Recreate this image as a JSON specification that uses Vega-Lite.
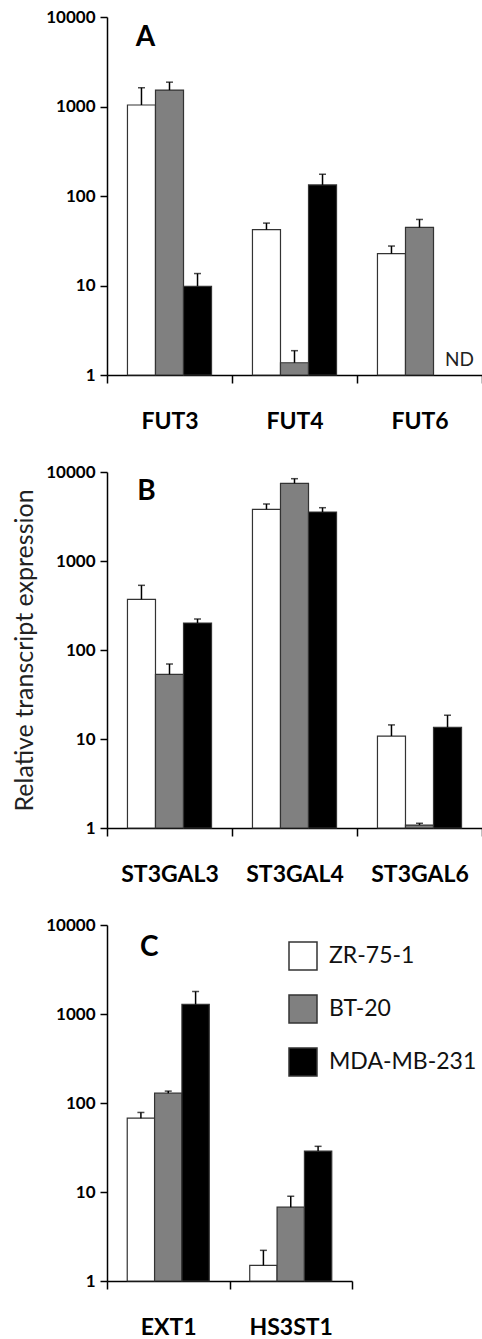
{
  "$schema": "https://vega.github.io/schema/vega-lite/v6.json",
  "padding": {"left": 12, "top": 8, "right": 0, "bottom": 0},
  "config": {
    "font": "Lato",
    "view": {"stroke": null},
    "axisX": {"title": null, "tickBand": "extent", "labelAngle": 0, "labelFontSize": 23, "labelFontWeight": "bold", "labelPadding": 27, "tickSize": 8, "domainColor": "#000", "tickColor": "#000", "domainWidth": 1.5, "tickWidth": 1.5, "labelColor": "#000"},
    "axisY": {"grid": false, "format": "d", "labelFontSize": 17, "labelFontWeight": "bold", "labelColor": "#000", "labelPadding": 5, "tickSize": 7, "domainColor": "#000", "tickColor": "#000", "domainWidth": 1.5, "tickWidth": 1.5, "title": null}
  },
  "datasets": {
    "expr": [
      {"panel": "A", "gene": "FUT3", "line": "ZR-75-1", "value": 1040, "upper": 1620},
      {"panel": "A", "gene": "FUT3", "line": "BT-20", "value": 1525, "upper": 1870},
      {"panel": "A", "gene": "FUT3", "line": "MDA-MB-231", "value": 9.8, "upper": 13.6},
      {"panel": "A", "gene": "FUT4", "line": "ZR-75-1", "value": 42, "upper": 49.8},
      {"panel": "A", "gene": "FUT4", "line": "BT-20", "value": 1.37, "upper": 1.87},
      {"panel": "A", "gene": "FUT4", "line": "MDA-MB-231", "value": 133, "upper": 175},
      {"panel": "A", "gene": "FUT6", "line": "ZR-75-1", "value": 22.7, "upper": 27.6},
      {"panel": "A", "gene": "FUT6", "line": "BT-20", "value": 44.6, "upper": 54.7},
      {"panel": "A", "gene": "FUT6", "line": "MDA-MB-231", "value": null, "upper": null, "note": "ND"},
      {"panel": "B", "gene": "ST3GAL3", "line": "ZR-75-1", "value": 371, "upper": 533},
      {"panel": "B", "gene": "ST3GAL3", "line": "BT-20", "value": 53.3, "upper": 69.6},
      {"panel": "B", "gene": "ST3GAL3", "line": "MDA-MB-231", "value": 201, "upper": 223},
      {"panel": "B", "gene": "ST3GAL4", "line": "ZR-75-1", "value": 3810, "upper": 4370},
      {"panel": "B", "gene": "ST3GAL4", "line": "BT-20", "value": 7460, "upper": 8410},
      {"panel": "B", "gene": "ST3GAL4", "line": "MDA-MB-231", "value": 3553, "upper": 3970},
      {"panel": "B", "gene": "ST3GAL6", "line": "ZR-75-1", "value": 10.8, "upper": 14.4},
      {"panel": "B", "gene": "ST3GAL6", "line": "BT-20", "value": 1.08, "upper": 1.13},
      {"panel": "B", "gene": "ST3GAL6", "line": "MDA-MB-231", "value": 13.5, "upper": 18.5},
      {"panel": "C", "gene": "EXT1", "line": "ZR-75-1", "value": 67.6, "upper": 78.3},
      {"panel": "C", "gene": "EXT1", "line": "BT-20", "value": 129, "upper": 136},
      {"panel": "C", "gene": "EXT1", "line": "MDA-MB-231", "value": 1280, "upper": 1790},
      {"panel": "C", "gene": "HS3ST1", "line": "ZR-75-1", "value": 1.5, "upper": 2.21},
      {"panel": "C", "gene": "HS3ST1", "line": "BT-20", "value": 6.75, "upper": 8.96},
      {"panel": "C", "gene": "HS3ST1", "line": "MDA-MB-231", "value": 28.8, "upper": 32.6}
    ]
  },
  "spacing": 30,
  "resolve": {"scale": {"x": "independent", "xOffset": "independent"}, "legend": {"color": "independent"}},
  "vconcat": [
    {
      "width": 375, "height": 358,
      "layer": [
        {
          "data": {"name": "expr"},
          "transform": [{"filter": "datum.panel == 'A'"}],
          "mark": {"type": "bar", "stroke": "#333", "strokeWidth": 1.2},
          "encoding": {
            "x": {"field": "gene", "type": "nominal", "scale": {"domain": ["FUT3", "FUT4", "FUT6"], "paddingInner": 0, "paddingOuter": 0}},
            "xOffset": {"field": "line", "type": "nominal", "scale": {"domain": ["ZR-75-1", "BT-20", "MDA-MB-231"], "paddingInner": 0, "paddingOuter": 0.73}},
            "y": {"field": "value", "type": "quantitative", "scale": {"type": "log", "domain": [1, 10000]}, "axis": {"values": [1, 10, 100, 1000, 10000]}},
            "y2": {"datum": 1},
            "color": {"field": "line", "type": "nominal", "scale": {"domain": ["ZR-75-1", "BT-20", "MDA-MB-231"], "range": ["#ffffff", "#808080", "#000000"]}, "legend": null}
          }
        },
        {
          "data": {"name": "expr"},
          "transform": [{"filter": "datum.panel == 'A'"}],
          "mark": {"type": "rule", "color": "#000", "strokeWidth": 1.5},
          "encoding": {
            "x": {"field": "gene", "type": "nominal"},
            "xOffset": {"field": "line", "type": "nominal"},
            "y": {"field": "value", "type": "quantitative"},
            "y2": {"field": "upper"}
          }
        },
        {
          "data": {"name": "expr"},
          "transform": [{"filter": "datum.panel == 'A'"}],
          "mark": {"type": "tick", "color": "#000", "thickness": 1.5, "size": 7},
          "encoding": {
            "x": {"field": "gene", "type": "nominal"},
            "xOffset": {"field": "line", "type": "nominal"},
            "y": {"field": "upper", "type": "quantitative"}
          }
        },
        {
          "data": {"name": "expr"},
          "transform": [{"filter": "datum.note == 'ND'"}],
          "mark": {"type": "text", "fontSize": 19, "color": "#222", "baseline": "bottom", "dy": -5, "dx": 12},
          "encoding": {
            "x": {"field": "gene", "type": "nominal"},
            "xOffset": {"field": "line", "type": "nominal"},
            "y": {"datum": 1},
            "text": {"field": "note"}
          }
        },
        {
          "data": {"values": [{"letter": "A"}]},
          "mark": {"type": "text", "fontSize": 28, "fontWeight": "bold", "color": "#000", "baseline": "alphabetic", "align": "center", "dx": -24},
          "encoding": {
            "x": {"datum": "FUT3"},
            "y": {"datum": 4750},
            "text": {"field": "letter"}
          }
        }
      ]
    },
    {
      "width": 375, "height": 356,
      "layer": [
        {
          "data": {"name": "expr"},
          "transform": [{"filter": "datum.panel == 'B'"}],
          "mark": {"type": "bar", "stroke": "#333", "strokeWidth": 1.2},
          "encoding": {
            "x": {"field": "gene", "type": "nominal", "scale": {"domain": ["ST3GAL3", "ST3GAL4", "ST3GAL6"], "paddingInner": 0, "paddingOuter": 0}},
            "xOffset": {"field": "line", "type": "nominal", "scale": {"domain": ["ZR-75-1", "BT-20", "MDA-MB-231"], "paddingInner": 0, "paddingOuter": 0.73}},
            "y": {"field": "value", "type": "quantitative", "scale": {"type": "log", "domain": [1, 10000]}, "axis": {"values": [1, 10, 100, 1000, 10000], "title": "Relative transcript expression", "titleFontSize": 25, "titleFontWeight": "normal", "titleColor": "#222", "titlePadding": 8}},
            "y2": {"datum": 1},
            "color": {"field": "line", "type": "nominal", "scale": {"domain": ["ZR-75-1", "BT-20", "MDA-MB-231"], "range": ["#ffffff", "#808080", "#000000"]}, "legend": null}
          }
        },
        {
          "data": {"name": "expr"},
          "transform": [{"filter": "datum.panel == 'B'"}],
          "mark": {"type": "rule", "color": "#000", "strokeWidth": 1.5},
          "encoding": {
            "x": {"field": "gene", "type": "nominal"},
            "xOffset": {"field": "line", "type": "nominal"},
            "y": {"field": "value", "type": "quantitative"},
            "y2": {"field": "upper"}
          }
        },
        {
          "data": {"name": "expr"},
          "transform": [{"filter": "datum.panel == 'B'"}],
          "mark": {"type": "tick", "color": "#000", "thickness": 1.5, "size": 7},
          "encoding": {
            "x": {"field": "gene", "type": "nominal"},
            "xOffset": {"field": "line", "type": "nominal"},
            "y": {"field": "upper", "type": "quantitative"}
          }
        },
        {
          "data": {"values": [{"letter": "B"}]},
          "mark": {"type": "text", "fontSize": 28, "fontWeight": "bold", "color": "#000", "baseline": "alphabetic", "align": "center", "dx": -23},
          "encoding": {
            "x": {"datum": "ST3GAL3"},
            "y": {"datum": 4900},
            "text": {"field": "letter"}
          }
        }
      ]
    },
    {
      "width": 245, "height": 356,
      "layer": [
        {
          "data": {"name": "expr"},
          "transform": [{"filter": "datum.panel == 'C'"}],
          "mark": {"type": "bar", "stroke": "#333", "strokeWidth": 1.2},
          "encoding": {
            "x": {"field": "gene", "type": "nominal", "scale": {"domain": ["EXT1", "HS3ST1"], "paddingInner": 0, "paddingOuter": 0}},
            "xOffset": {"field": "line", "type": "nominal", "scale": {"domain": ["ZR-75-1", "BT-20", "MDA-MB-231"], "paddingInner": 0, "paddingOuter": 0.74}},
            "y": {"field": "value", "type": "quantitative", "scale": {"type": "log", "domain": [1, 10000]}, "axis": {"values": [1, 10, 100, 1000, 10000]}},
            "y2": {"datum": 1},
            "color": {"field": "line", "type": "nominal", "scale": {"domain": ["ZR-75-1", "BT-20", "MDA-MB-231"], "range": ["#ffffff", "#808080", "#000000"]},
              "legend": {"orient": "none", "legendX": 181, "legendY": 16, "title": null, "symbolType": "square", "symbolSize": 784, "symbolStrokeColor": "#333", "symbolStrokeWidth": 1.5, "labelFontSize": 23, "labelOffset": 11, "rowPadding": 19, "labelColor": "#111", "padding": 0}}
          }
        },
        {
          "data": {"name": "expr"},
          "transform": [{"filter": "datum.panel == 'C'"}],
          "mark": {"type": "rule", "color": "#000", "strokeWidth": 1.5},
          "encoding": {
            "x": {"field": "gene", "type": "nominal"},
            "xOffset": {"field": "line", "type": "nominal"},
            "y": {"field": "value", "type": "quantitative"},
            "y2": {"field": "upper"}
          }
        },
        {
          "data": {"name": "expr"},
          "transform": [{"filter": "datum.panel == 'C'"}],
          "mark": {"type": "tick", "color": "#000", "thickness": 1.5, "size": 7},
          "encoding": {
            "x": {"field": "gene", "type": "nominal"},
            "xOffset": {"field": "line", "type": "nominal"},
            "y": {"field": "upper", "type": "quantitative"}
          }
        },
        {
          "data": {"values": [{"letter": "C"}]},
          "mark": {"type": "text", "fontSize": 28, "fontWeight": "bold", "color": "#000", "baseline": "alphabetic", "align": "center", "dx": -19},
          "encoding": {
            "x": {"datum": "EXT1"},
            "y": {"datum": 4500},
            "text": {"field": "letter"}
          }
        }
      ]
    }
  ]
}
